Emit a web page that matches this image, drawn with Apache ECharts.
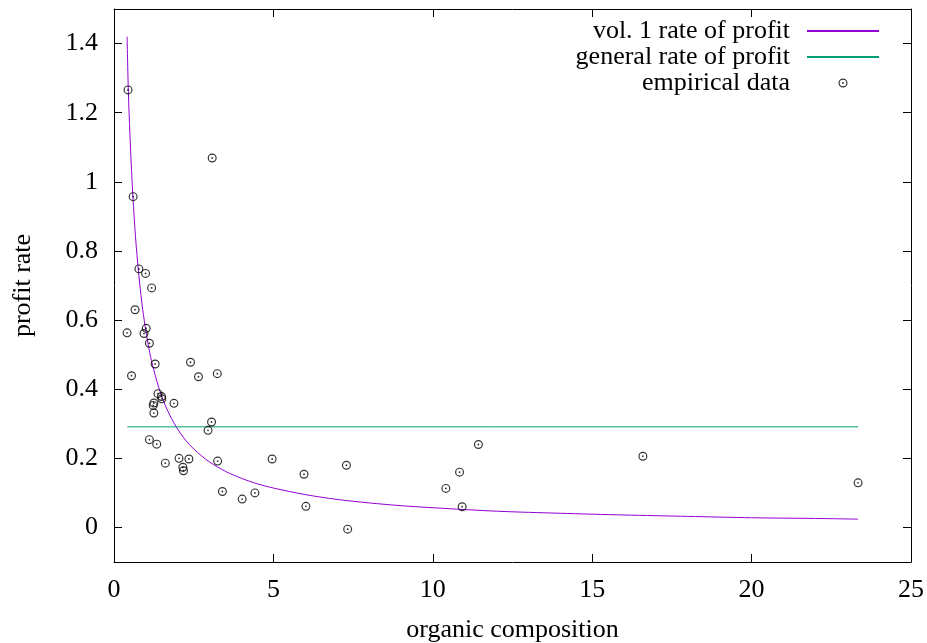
<!DOCTYPE html>
<html><head><meta charset="utf-8">
<script src="https://cdn.jsdelivr.net/npm/echarts@6/dist/echarts.min.js"></script>
<style>html,body{margin:0;padding:0;background:#fff}#c{width:927px;height:643px}</style>
</head><body><div id="c"></div>
<script>
// empirical data (organic composition, profit rate)
const empX = [0.44, 3.08, 0.60, 0.78, 0.99, 1.18, 0.66, 0.41, 1.01, 0.94, 1.11, 1.29, 2.40, 0.55, 2.65, 3.24,
  1.38, 1.49, 1.50, 1.25, 1.23, 1.25, 1.88, 3.06, 2.95, 1.11, 1.34, 1.61, 2.04, 2.35, 2.16, 2.18, 3.25,
  3.40, 4.02, 4.42, 4.96, 5.96, 6.02, 7.29, 7.33, 11.43, 10.84, 10.41, 10.92, 16.59, 23.34];
const empY = [1.266, 1.069, 0.957, 0.748, 0.735, 0.693, 0.630, 0.563, 0.576, 0.561, 0.533, 0.473, 0.478, 0.439, 0.436, 0.445,
  0.387, 0.379, 0.372, 0.360, 0.353, 0.331, 0.359, 0.305, 0.281, 0.254, 0.241, 0.186, 0.200, 0.198, 0.174, 0.164, 0.192,
  0.104, 0.082, 0.100, 0.198, 0.154, 0.061, 0.180, -0.005, 0.240, 0.160, 0.113, 0.060, 0.206, 0.129];
// vol. 1 rate of profit curve
const curveX = [0.41, 0.45, 0.5, 0.55, 0.6, 0.65, 0.7, 0.8, 0.9, 1.0, 1.1, 1.2, 1.4, 1.6, 1.8, 2.0, 2.25, 2.5, 2.75, 3.0, 3.5, 4.0, 4.5, 5, 6, 7, 8, 9, 10, 12, 14, 16, 18, 20, 22, 23.34];
const curveY = [1.42, 1.262, 1.136, 1.033, 0.947, 0.874, 0.811, 0.710, 0.631, 0.568, 0.516, 0.473, 0.406, 0.355, 0.316, 0.284, 0.252, 0.227, 0.207, 0.189, 0.162, 0.142, 0.126, 0.114, 0.095, 0.081, 0.071, 0.063, 0.057, 0.047, 0.041, 0.036, 0.032, 0.028, 0.026, 0.024];
// general rate of profit
const genX = [0.42, 23.34];
const genY = [0.291, 0.291];
// ticks
const xTicks = [0, 5, 10, 15, 20, 25];
const yTicks = [0, 0.2, 0.4, 0.6, 0.8, 1, 1.2, 1.4];
const seriesNames = ['vol. 1 rate of profit', 'general rate of profit', 'empirical data'];
const xName = 'organic composition';
const yName = 'profit rate';

const zip = (a, b) => a.map((v, i) => [v, b[i]]);
const FONT = "'Liberation Serif', 'Times New Roman', serif";
const FS = 26;
const ringDot = 'path://M4,0A4,4,0,1,1,-4,0A4,4,0,1,1,4,0ZM2.95,0A2.95,2.95,0,1,0,-2.95,0A2.95,2.95,0,1,0,2.95,0ZM0.8,0A0.8,0.8,0,1,1,-0.8,0A0.8,0.8,0,1,1,0.8,0Z';

const chart = echarts.init(document.getElementById('c'), null, {renderer: 'canvas'});
const axisLine = {show: true, onZero: false, lineStyle: {color: '#000', width: 1}};
const tick = {show: true, inside: true, length: 8, lineStyle: {color: '#000', width: 1}};
const lbl = {color: '#000', fontFamily: FONT, fontSize: FS};
const hiddenSym = {opacity: 0};
chart.setOption({
  animation: false,
  backgroundColor: '#fff',
  grid: {left: 114, top: 9, width: 797, height: 553, containLabel: false, outerBoundsMode: 'none'},
  legend: {
    orient: 'vertical', right: 42, top: 13, align: 'right',
    itemWidth: 72, itemHeight: 9, itemGap: 0,
    textStyle: {fontFamily: FONT, fontSize: FS, color: '#000', padding: [0, 12, 0, 0]},
    data: [
      {name: seriesNames[0], itemStyle: hiddenSym},
      {name: seriesNames[1], itemStyle: hiddenSym},
      {name: seriesNames[2], icon: ringDot}
    ]
  },
  xAxis: [
    {type: 'value', min: 0, max: 25, interval: 5, position: 'bottom',
     name: xName, nameLocation: 'middle', nameGap: 55, nameTextStyle: {fontFamily: FONT, fontSize: FS, color: '#000'},
     axisLine, axisTick: tick, splitLine: {show: false},
     axisLabel: Object.assign({margin: 15, customValues: xTicks}, lbl)},
    {type: 'value', min: 0, max: 25, interval: 5, position: 'top',
     axisLine, axisTick: tick, splitLine: {show: false}, axisLabel: {show: false}}
  ],
  yAxis: [
    {type: 'value', min: -0.1, max: 1.5, position: 'left',
     name: yName, nameLocation: 'middle', nameGap: 78, nameRotate: 90,
     nameTextStyle: {fontFamily: FONT, fontSize: FS, color: '#000'},
     axisLine, axisTick: Object.assign({customValues: yTicks}, tick), splitLine: {show: false},
     axisLabel: Object.assign({margin: 16, customValues: yTicks,
       formatter: v => String(Math.round(v * 10) / 10)}, lbl)},
    {type: 'value', min: -0.1, max: 1.5, position: 'right',
     axisLine, axisTick: Object.assign({customValues: yTicks}, tick), splitLine: {show: false},
     axisLabel: {show: false}}
  ],
  series: [
    {name: seriesNames[0], type: 'line', data: zip(curveX, curveY), smooth: 0.3, symbol: 'none',
     lineStyle: {color: '#9400d3', width: 1}, itemStyle: {color: '#9400d3'}, z: 2},
    {name: seriesNames[1], type: 'line', data: zip(genX, genY), symbol: 'none',
     lineStyle: {color: '#009e73', width: 1}, itemStyle: {color: '#009e73'}, z: 2},
    {name: seriesNames[2], type: 'scatter', data: zip(empX, empY), symbol: ringDot, symbolSize: 9,
     itemStyle: {color: '#000'}, z: 3}
  ]
});
</script></body></html>
